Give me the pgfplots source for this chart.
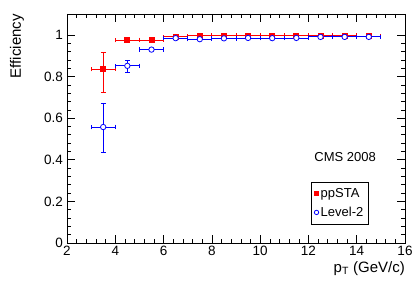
\documentclass[border=0pt]{standalone}
\usepackage{pgfplots}
\pgfplotsset{compat=1.18}
\usepackage{fontspec}
\setmainfont{Liberation Sans}
\begin{document}
\begin{tikzpicture}
\useasboundingbox (0,0) rectangle (415pt,281pt);
\begin{axis}[
  at={(67pt,38pt)}, anchor=south west,
  scale only axis, width=338pt, height=229pt,
  xmin=2, xmax=16, ymin=0, ymax=1.1,
  xtick={2,4,...,16}, ytick={0,0.2,...,1},
  minor tick num=4,
  tick align=inside,
  major tick length=8pt, minor tick length=4pt,
  tick style={black, line width=0.5pt},
  axis line style={line width=0.6pt},
  /pgf/number format/assume math mode=true,
  ticklabel style={font=\fontsize{13.5}{15}\selectfont, inner sep=1pt},
  xticklabel style={yshift=-2pt},
  yticklabel style={/pgf/number format/fixed, xshift=-3pt},
  xlabel={p\textsubscript{T} (GeV/c)},
  ylabel={Efficiency},
  label style={font=\fontsize{15}{17}\selectfont},
  xlabel style={at={(axis description cs:1,0)}, anchor=north east, inner sep=0pt, yshift=-18pt},
  ylabel style={at={(axis description cs:-0.127,1)}, anchor=south east, inner sep=0pt},
  legend style={at={(rel axis cs:0.722,0.266)}, anchor=north west,
    draw=black, line width=0.6pt, font=\fontsize{13}{15}\selectfont,
    inner xsep=3pt, inner ysep=4pt, row sep=4pt},
  legend cell align=left,
  legend image code/.code={\draw[mark repeat=2, mark phase=2, #1] plot coordinates {(0cm,0cm) (0.15cm,0cm) (0.3cm,0cm)};},
]
\addplot[red, line width=0.8pt, only marks, mark=square*, mark size=2.5pt, forget plot,
  error bars/.cd, x dir=both, x explicit, y dir=both, y explicit,
  error bar style={line width=0.8pt},
  error mark options={rotate=90, mark size=2.3pt, line width=0.8pt, red}]
coordinates {
 (3.5,0.835) += (0.5,0.08) -= (0.5,0.11)
 (4.5,0.975) +- (0.5,0.005)
 (5.5,0.975) +- (0.5,0.004)
 (6.5,0.990) +- (0.5,0.003)
 (7.5,0.995) +- (0.5,0.002)
 (8.5,0.997) +- (0.5,0.002)
 (9.5,0.997) +- (0.5,0.002)
 (10.5,0.996) +- (0.5,0.002)
 (11.5,0.995) +- (0.5,0.002)
 (12.5,0.997) +- (0.5,0.002)
 (13.5,0.997) +- (0.5,0.002)
 (14.5,0.993) +- (0.5,0.002)
};
\addplot[blue, line width=0.8pt, only marks, mark=*, mark size=2.7pt, forget plot,
  mark options={fill=white},
  error bars/.cd, x dir=both, x explicit, y dir=both, y explicit,
  error bar style={line width=0.8pt},
  error mark options={rotate=90, mark size=2.3pt, line width=0.8pt, blue}]
coordinates {
 (3.5,0.557) += (0.5,0.115) -= (0.5,0.12)
 (4.5,0.851) += (0.5,0.025) -= (0.5,0.03)
 (5.5,0.929) +- (0.5,0.006)
 (6.5,0.984) +- (0.5,0.004)
 (7.5,0.979) +- (0.5,0.003)
 (8.5,0.983) +- (0.5,0.003)
 (9.5,0.985) +- (0.5,0.003)
 (10.5,0.984) +- (0.5,0.003)
 (11.5,0.985) +- (0.5,0.003)
 (12.5,0.990) +- (0.5,0.003)
 (13.5,0.990) +- (0.5,0.003)
 (14.5,0.990) +- (0.5,0.003)
};
\addlegendimage{only marks, mark=square*, red, mark size=2pt}
\addlegendentry{ppSTA}
\addlegendimage{only marks, mark=*, blue, mark size=2.2pt, mark options={fill=white, line width=0.8pt}}
\addlegendentry{Level-2\hspace{10pt}}
\node[font=\fontsize{13}{15}\selectfont] at (axis cs:13.52,0.412) {CMS 2008};
\end{axis}
\end{tikzpicture}
\end{document}
